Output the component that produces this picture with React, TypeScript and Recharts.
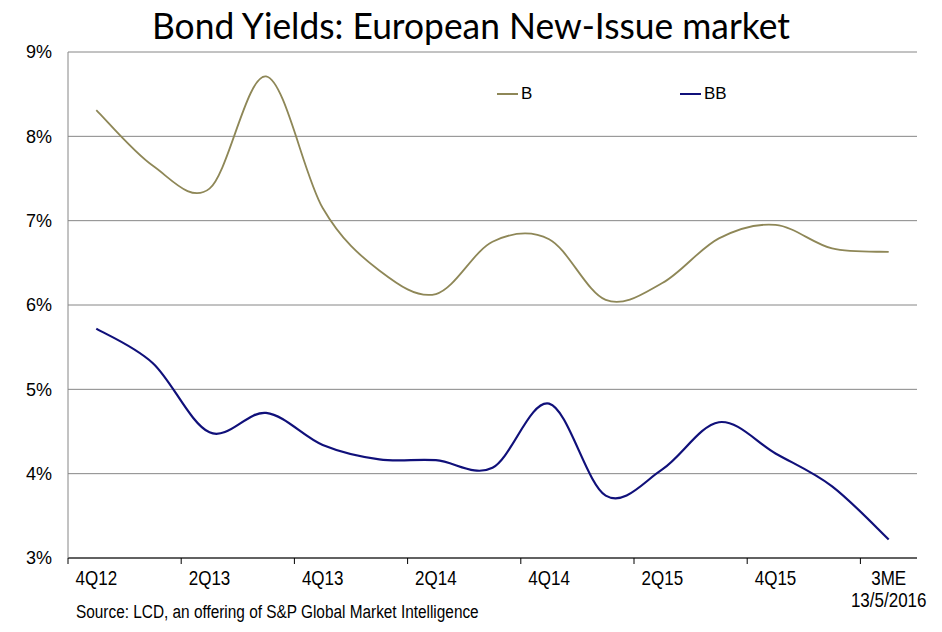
import { LineChart, Line, XAxis, YAxis, CartesianGrid, Legend } from 'recharts'

// quarterly new-issue yields, %
const quarters = [
  '4Q12', '1Q13', '2Q13', '3Q13', '4Q13', '1Q14', '2Q14', '3Q14',
  '4Q14', '1Q15', '2Q15', '3Q15', '4Q15', '1Q16', '3ME 13/5/2016',
]
const singleB = [8.31, 7.65, 7.38, 8.71, 7.15, 6.41, 6.13, 6.75, 6.78, 6.06, 6.26, 6.79, 6.95, 6.67, 6.63]
const doubleB = [5.72, 5.31, 4.49, 4.72, 4.34, 4.17, 4.16, 4.07, 4.83, 3.74, 4.05, 4.61, 4.24, 3.85, 3.22]
const yTicks = [3, 4, 5, 6, 7, 8, 9]
// tick marks sit on category boundaries, every second quarter
const xTicks = [-0.5, 1.5, 3.5, 5.5, 7.5, 9.5, 11.5, 13.5]

const data = quarters.map((q, i) => ({ i, quarter: q, B: singleB[i], BB: doubleB[i] }))

const W = 942
const H = 632
const PLOT_LEFT = 68
const PLOT_RIGHT = 25
const HALF_BAND = (W - PLOT_LEFT - PLOT_RIGHT) / quarters.length / 2

const B_COLOR = '#8E8757'
const BB_COLOR = '#10107A'
const GRID = '#868686'
const FONT = '"Liberation Sans", Arial, sans-serif'

// Excel-style smoothed line (Catmull-Rom through every point)
const excelSmooth = (context: any) => {
  let pts: number[][] = []
  return {
    areaStart() {},
    areaEnd() {},
    lineStart() { pts = [] },
    point(x: number, y: number) { pts.push([+x, +y]) },
    lineEnd() {
      if (!pts.length) return
      context.moveTo(pts[0][0], pts[0][1])
      for (let k = 0; k < pts.length - 1; k++) {
        const p0 = pts[k - 1] ?? pts[k]
        const p1 = pts[k]
        const p2 = pts[k + 1]
        const p3 = pts[k + 2] ?? p2
        context.bezierCurveTo(
          p1[0] + (p2[0] - p0[0]) / 6, p1[1] + (p2[1] - p0[1]) / 6,
          p2[0] - (p3[0] - p1[0]) / 6, p2[1] - (p3[1] - p1[1]) / 6,
          p2[0], p2[1],
        )
      }
    },
  }
}

// label sits under the first quarter of each pair; narrowed like Arial Narrow
function QuarterTick({ x, y, payload }: any) {
  const label = quarters[Math.round(payload.value + 0.5)] ?? ''
  const lines = label.split(' ')
  return (
    <g transform={`translate(${x + HALF_BAND},${y}) scale(0.85,1)`}>
      <text x={0} y={0} textAnchor="middle" fill="#000" fontFamily={FONT} fontSize={20}>
        {lines.map((l, k) => (
          <tspan key={k} x={0} dy={k === 0 ? 19 : 22}>{l}</tspan>
        ))}
      </text>
    </g>
  )
}

function SeriesLegend({ payload }: any) {
  return (
    <div style={{ display: 'flex', fontFamily: FONT, fontSize: 17, lineHeight: '20px' }}>
      {(payload ?? []).map((p: any) => (
        <div key={p.value} style={{ display: 'flex', alignItems: 'center', width: 183 }}>
          <span style={{ display: 'inline-block', width: 21, height: 2, background: p.color, marginRight: 3 }} />
          <span>{p.value}</span>
        </div>
      ))}
    </div>
  )
}

export default function App() {
  return (
    <div style={{ position: 'absolute', left: 0, top: 0, width: W, height: H, background: '#fff' }}>
      <LineChart width={W} height={H} data={data} margin={{ top: 52, right: PLOT_RIGHT, left: 0, bottom: 0 }}>
        <CartesianGrid vertical={false} stroke={GRID} strokeWidth={1} />
        <XAxis
          dataKey="i"
          type="number"
          domain={[-0.5, 14.5]}
          ticks={xTicks}
          height={74}
          axisLine={{ stroke: '#000' }}
          tickLine={{ stroke: '#000' }}
          tickSize={6}
          tickMargin={2}
          tick={<QuarterTick />}
          interval={0}
        />
        <YAxis
          domain={[3, 9]}
          ticks={yTicks}
          width={PLOT_LEFT}
          axisLine={{ stroke: GRID }}
          tickLine={false}
          tickSize={0}
          tickMargin={16}
          tickFormatter={(v: number) => `${v}%`}
          tick={{ fill: '#000', fontFamily: FONT, fontSize: 18 }}
          interval={0}
        />
        <Legend
          verticalAlign="middle"
          align="center"
          content={<SeriesLegend />}
          wrapperStyle={{ top: 84, left: 497, width: 400 }}
        />
        <Line dataKey="B" name="B" type={excelSmooth as any} stroke={B_COLOR} strokeWidth={1.8} dot={false} isAnimationActive={false} />
        <Line dataKey="BB" name="BB" type={excelSmooth as any} stroke={BB_COLOR} strokeWidth={2.2} dot={false} isAnimationActive={false} />
      </LineChart>
      <svg width={W} height={H} style={{ position: 'absolute', left: 0, top: 0, pointerEvents: 'none' }}>
        <text x={471} y={39} textAnchor="middle" fontFamily="Lato, sans-serif" fontSize={37} fill="#000"
          textLength={638} lengthAdjust="spacingAndGlyphs">
          Bond Yields: European New-Issue market
        </text>
        <g transform="translate(76,618) scale(0.81,1)">
          <text x={0} y={0} fontFamily={FONT} fontSize={19} fill="#000">
            Source: LCD, an offering of S&amp;P Global Market Intelligence
          </text>
        </g>
      </svg>
    </div>
  )
}
